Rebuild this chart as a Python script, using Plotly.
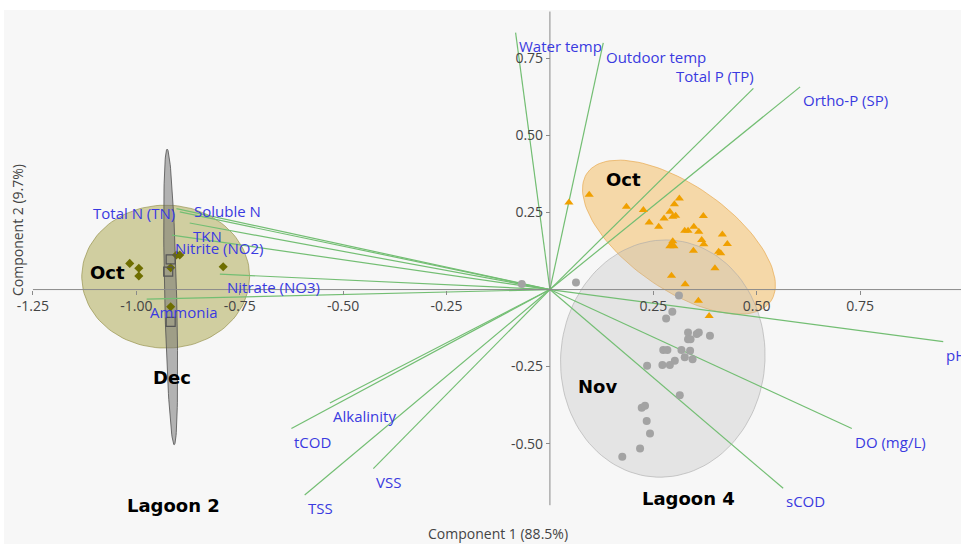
import numpy as np
import plotly.graph_objects as go

# ---------------- data ----------------
loading_labels = ["Water temp", "Outdoor temp", "Total P (TP)", "Ortho-P (SP)", "pH",
                  "DO (mg/L)", "sCOD", "TSS", "VSS", "tCOD", "Alkalinity", "Ammonia",
                  "Nitrate (NO3)", "Nitrite (NO2)", "TKN", "Total N (TN)", "Soluble N"]
loading_pc1 = [-0.083, 0.129, 0.492, 0.605, 0.951, 0.730, 0.564, -0.593, -0.427, -0.625,
               -0.532, -0.975, -0.798, -0.914, -0.871, -0.903, -0.895]
loading_pc2 = [0.834, 0.801, 0.653, 0.658, -0.169, -0.451, -0.645, -0.667, -0.581, -0.451,
               -0.368, -0.031, 0.050, 0.177, 0.216, 0.263, 0.252]

# Lagoon 2 - Oct (diamonds)
l2_oct_pc1 = [-1.016, -0.994, -0.994, -0.903, -0.895, -0.917, -0.790, -0.917]
l2_oct_pc2 = [0.085, 0.069, 0.044, 0.112, 0.112, 0.071, 0.074, -0.056]
# Lagoon 2 - Dec (open squares)
l2_dec_pc1 = [-0.917, -0.923, -0.917]
l2_dec_pc2 = [0.098, 0.058, -0.105]
# Lagoon 4 - Oct (triangles)
l4_oct_pc1 = [0.046, 0.095, 0.185, 0.226, 0.313, 0.301, 0.290, 0.304, 0.297, 0.276, 0.240,
              0.263, 0.371, 0.348, 0.326, 0.334, 0.360, 0.417, 0.367, 0.372, 0.297, 0.294,
              0.290, 0.300, 0.347, 0.429, 0.408, 0.413, 0.399, 0.294, 0.327, 0.359, 0.385]
l4_oct_pc2 = [0.283, 0.308, 0.269, 0.258, 0.296, 0.277, 0.253, 0.240, 0.236, 0.231, 0.218,
              0.204, 0.239, 0.204, 0.191, 0.191, 0.188, 0.179, 0.161, 0.147, 0.157, 0.144,
              0.141, 0.141, 0.126, 0.148, 0.123, 0.118, 0.069, 0.045, 0.017, -0.036, -0.086]
# Lagoon 4 - Nov (circles)
l4_nov_pc1 = [-0.068, 0.063, 0.312, 0.296, 0.281, 0.334, 0.355, 0.360, 0.387, 0.334, 0.340,
              0.274, 0.284, 0.318, 0.339, 0.326, 0.345, 0.302, 0.290, 0.272, 0.235, 0.314,
              0.222, 0.230, 0.234, 0.242, 0.218, 0.175]
l4_nov_pc2 = [0.018, 0.023, -0.019, -0.072, -0.094, -0.139, -0.144, -0.139, -0.150, -0.161,
              -0.161, -0.196, -0.196, -0.196, -0.199, -0.220, -0.226, -0.231, -0.245, -0.245,
              -0.247, -0.343, -0.384, -0.377, -0.427, -0.467, -0.516, -0.543]

x_ticks = [-1.25, -1.00, -0.75, -0.50, -0.25, 0.25, 0.50, 0.75]
y_ticks = [-0.50, -0.25, 0.25, 0.50, 0.75]

# ---------------- styling ----------------
XMIN, XMAX = -1.320, 0.994
YMIN, YMAX = -0.748, 0.9075
BG = "#f7f7f7"
LABEL_BLUE = "#3a3ae0"
FONT = "Open Sans"
BOLD_FONT = "DejaVu Sans"

# label placement: (xanchor, yanchor, xshift, yshift)
label_place = {lab: ("left", "top", 1, -1) for lab in loading_labels}
label_place["Total P (TP)"] = ("right", "bottom", 3, 0)
label_place["Total N (TN)"] = ("right", "middle", 1, -4)
label_place["Soluble N"] = ("left", "middle", 12, 1)
label_place["Nitrate (NO3)"] = ("left", "top", 5, -1)
label_place["Outdoor temp"] = ("left", "top", 1, -2)

# ellipses: center, semi-axis vectors (data units)
ellipses = [
    ((-0.929, 0.042), (0.203, 0.0), (0.0, 0.232), "rgba(150,145,30,0.40)", "rgba(140,135,60,0.6)"),
    ((0.312, 0.170), (0.2218, -0.2085), (-0.0721, -0.1383), "rgba(242,170,50,0.40)", "rgba(230,160,60,0.6)"),
    ((0.273, -0.224), (0.247, -0.008), (0.012, 0.385), "rgba(185,185,185,0.30)", "rgba(170,170,170,0.6)"),
    ((-0.917, -0.024), (0.0145, 0.0), (-0.0085, 0.480), "rgba(110,110,110,0.50)", "rgba(80,80,80,0.8)"),
]


def ellipse_xy(c, a, b, n=120):
    t = np.linspace(0, 2 * np.pi, n)
    xs = c[0] + a[0] * np.cos(t) + b[0] * np.sin(t)
    ys = c[1] + a[1] * np.cos(t) + b[1] * np.sin(t)
    return xs, ys


fig = go.Figure()

for c, a, b, fc, lc in ellipses:
    ex, ey = ellipse_xy(c, a, b)
    fig.add_trace(go.Scatter(x=ex, y=ey, mode="lines", fill="toself", fillcolor=fc,
                             line=dict(color=lc, width=1), hoverinfo="skip", showlegend=False))

# loading vectors
lx, ly = [], []
for px, py in zip(loading_pc1, loading_pc2):
    lx += [0, px, None]
    ly += [0, py, None]
fig.add_trace(go.Scatter(x=lx, y=ly, mode="lines", line=dict(color="rgb(115,190,115)", width=1.2),
                         hoverinfo="skip", showlegend=False))

# points
fig.add_trace(go.Scatter(x=l4_nov_pc1, y=l4_nov_pc2, mode="markers",
                         marker=dict(symbol="circle", size=8, color="#a3a3a3"), showlegend=False))
fig.add_trace(go.Scatter(x=l4_oct_pc1, y=l4_oct_pc2, mode="markers",
                         marker=dict(symbol="triangle-up", size=8, color="#f0a000"), showlegend=False))
fig.add_trace(go.Scatter(x=l2_oct_pc1, y=l2_oct_pc2, mode="markers",
                         marker=dict(symbol="diamond", size=7, color="#6e6e00"), showlegend=False))
fig.add_trace(go.Scatter(x=l2_dec_pc1, y=l2_dec_pc2, mode="markers",
                         marker=dict(symbol="square-open", size=9, color="#555555",
                                     line=dict(width=1.2)), showlegend=False))

annotations = []
for lab, px, py in zip(loading_labels, loading_pc1, loading_pc2):
    xa, ya, xs, ys = label_place[lab]
    annotations.append(dict(x=px, y=py, text=lab, showarrow=False, xanchor=xa, yanchor=ya,
                            xshift=xs, yshift=ys, font=dict(family=FONT, size=15, color=LABEL_BLUE)))

group_labels = [("Oct", -1.070, 0.055), ("Dec", -0.914, -0.286), ("Lagoon 2", -0.911, -0.700),
                ("Lagoon 4", 0.335, -0.677), ("Oct", 0.177, 0.356), ("Nov", 0.115, -0.315)]
for t, gx, gy in group_labels:
    annotations.append(dict(x=gx, y=gy, text="<b>%s</b>" % t, showarrow=False, xanchor="center",
                            yanchor="middle", font=dict(family=BOLD_FONT, size=18, color="black")))

annotations.append(dict(xref="paper", yref="paper", x=0.516, y=-0.0255, text="Component 1 (88.5%)",
                        showarrow=False, xanchor="center", yanchor="middle",
                        font=dict(family=FONT, size=14, color="#444444")))
annotations.append(dict(xref="paper", yref="paper", x=0.0136, y=0.5686, text="Component 2 (9.7%)",
                        showarrow=False, xanchor="center", yanchor="middle", textangle=-90,
                        font=dict(family=FONT, size=14, color="#444444")))

shapes = [
    dict(type="line", xref="x", yref="y", x0=-1.25, x1=XMAX, y0=0, y1=0,
         line=dict(color="#8a8a8a", width=1), layer="above"),
    dict(type="line", xref="x", yref="y", x0=0, x1=0, y0=-0.70, y1=YMAX - 0.005,
         line=dict(color="#8a8a8a", width=1), layer="above"),
    dict(type="rect", xref="paper", yref="paper", x0=-0.01, x1=1.01, y0=1.0, y1=1.03,
         fillcolor="white", line=dict(width=0), layer="below"),
    dict(type="rect", xref="paper", yref="paper", x0=-0.01, x1=0.0, y0=-0.06, y1=1.03,
         fillcolor="white", line=dict(width=0), layer="below"),
]

fig.update_layout(
    width=961, height=544,
    margin=dict(l=4, r=0, t=10, b=24),
    paper_bgcolor=BG, plot_bgcolor=BG,
    showlegend=False,
    annotations=annotations,
    shapes=shapes,
    xaxis=dict(range=[XMIN, XMAX], showgrid=False, zeroline=False, showline=False,
               anchor="free", position=(0 - YMIN) / (YMAX - YMIN),
               tickvals=x_ticks, ticktext=["%.2f" % v for v in x_ticks],
               ticks="outside", ticklen=4, tickcolor="#8a8a8a",
               tickfont=dict(family=FONT, size=14, color="#444444")),
    yaxis=dict(range=[YMIN, YMAX], showgrid=False, zeroline=False, showline=False,
               anchor="free", position=(0 - XMIN) / (XMAX - XMIN),
               tickvals=y_ticks, ticktext=["%.2f" % v for v in y_ticks],
               ticks="outside", ticklen=4, tickcolor="#8a8a8a",
               tickfont=dict(family=FONT, size=14, color="#444444")),
)

fig.write_html("out.html", config={"displayModeBar": False},
               post_script="document.body.style.margin='0';document.body.style.overflow='hidden';")
